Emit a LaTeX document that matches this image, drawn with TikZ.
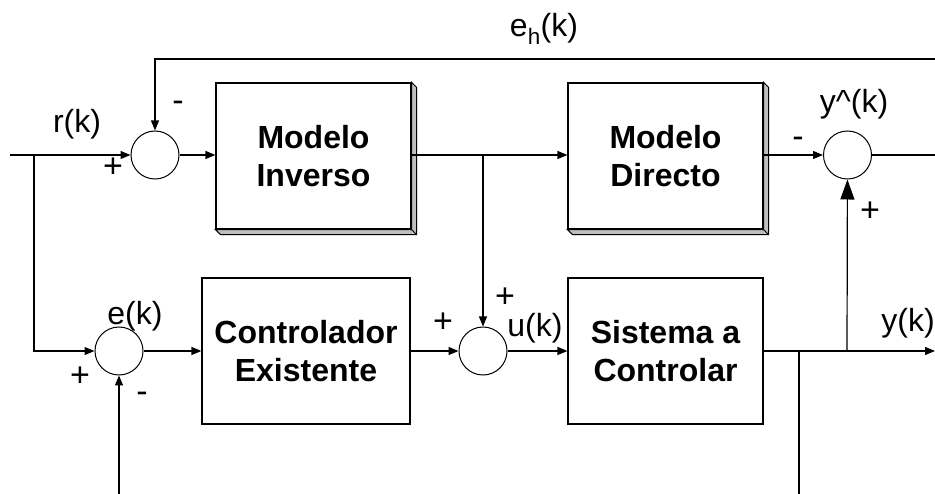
\documentclass[tikz,border=0pt]{standalone}
\usepackage{fontspec}
\setmainfont{Liberation Sans}
\usetikzlibrary{arrows.meta, positioning}

\begin{document}
\begin{tikzpicture}[
  x=1pt, y=-1pt,
  line width=1.2pt,
  >={Triangle[length=10pt, width=8pt]},
  sumnode/.style={circle, draw, line width=1pt, minimum size=48pt, inner sep=0pt},
  block/.style={draw, fill=white, minimum width=195pt, minimum height=146pt,
    align=center, font=\fontsize{32}{38}\selectfont\bfseries},
  lbl/.style={font=\fontsize{32}{36}\selectfont, inner sep=0pt, anchor=base},
  sgn/.style={font=\fontsize{34}{36}\selectfont, inner sep=0pt},
  slab/.style={fill=black!25, draw=black, line width=1pt, line join=miter}
]
\useasboundingbox (0,0) rectangle (935,494);

% -------------------------
% BLOCKS
% -------------------------

\node[sumnode] (s1) at (155,155) {};
\node[block] (inv) at (313.5,156) {Modelo\\Inverso};
\node[block] (dir) at (665.5,156) {Modelo\\Directo};
\node[sumnode] (s2) at (847.5,155) {};

\node[sumnode] (se) at (119,351) {};
\node[block, minimum width=208pt] (ctrl) at (306,351) {Controlador\\Existente};
\node[sumnode] (su) at (483,351) {};
\node[block] (sys) at (665.5,351) {Sistema a\\Controlar};

% 3D edges of the two models
\draw[slab] (inv.north east) -- ++(5,5) -- ([shift={(5,5)}]inv.south east)
  -- ([shift={(5,5)}]inv.south west) -- (inv.south west) -- (inv.south east) -- cycle;
\draw[line width=1pt] (inv.south east) -- ++(5,5);
\draw[slab] (dir.north east) -- ++(5,5) -- ([shift={(5,5)}]dir.south east)
  -- ([shift={(5,5)}]dir.south west) -- (dir.south west) -- (dir.south east) -- cycle;
\draw[line width=1pt] (dir.south east) -- ++(5,5);

% -------------------------
% POINTS
% -------------------------

\coordinate (in) at (10,155);
\coordinate (rb) at (34,155);
\coordinate (ub) at (483,155);
\coordinate (ytop) at (935,155);
\coordinate (fbr) at (935,59);
\coordinate (fbl) at (155,59);
\coordinate (ein) at (119,494);
\coordinate (yb) at (847,351);
\coordinate (mb) at (799,351);
\coordinate (mout) at (799,494);
\coordinate (yout) at (935,351);

% -------------------------
% CONNECTIONS
% -------------------------

\draw[->] (in) -- (s1);
\draw[->] (s1) -- (s1 -| inv.west);
\draw[->] (inv.east |- ub) -- (ub -| dir.west);
\draw[->] (ub) -- (su);
\draw[->] (dir.east |- s2) -- (s2);
\draw (s2) -- (ytop);
\draw[->] (fbr) -- (fbl) -- (s1);

\draw[->] (rb) |- (se);
\draw[->] (se) -- (ctrl);
\draw[->] (ein) -- (se);
\draw[->] (ctrl) -- (su);
\draw[->] (su) -- (sys);
\draw[->] (sys) -- (yout);
\draw (mb) -- (mout);
\draw[-{Triangle[length=20pt, width=14pt]}] (yb) -- (s2);

% -------------------------
% LABELS
% -------------------------

\node[lbl] (eh) at (544,37) {e\textsubscript{h}(k)};
\node[lbl] (rk) at (77,133) {r(k)};
\node[lbl] (yhat) at (854,113) {y\textasciicircum(k)};
\node[lbl] (ek) at (135,325) {e(k)};
\node[lbl] (uk) at (535,337) {u(k)};
\node[lbl] (yk) at (908,332) {y(k)};

\node[sgn] (p1) at (113,168) {+};
\node[sgn] (m1) at (178,106) {-};
\node[sgn] (m2) at (798,142) {-};
\node[sgn] (p2) at (870,212) {+};
\node[sgn] (p3) at (80,377) {+};
\node[sgn] (m3) at (142,397) {-};
\node[sgn] (p4) at (443,323) {+};
\node[sgn] (p5) at (505,298) {+};

\end{tikzpicture}
\end{document}
